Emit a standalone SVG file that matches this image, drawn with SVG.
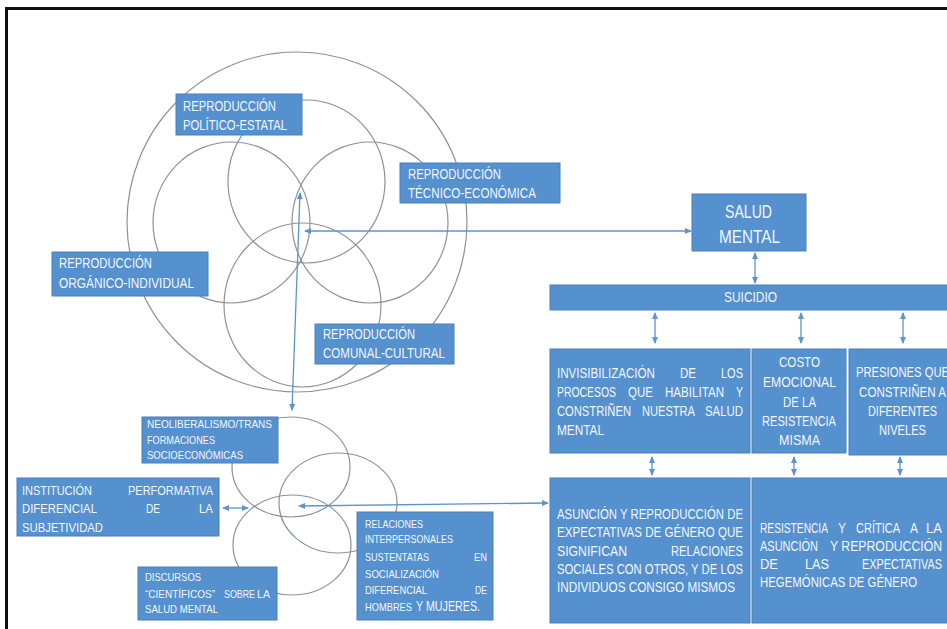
<svg xmlns="http://www.w3.org/2000/svg" width="947" height="629" viewBox="0 0 947 629">
<defs>
<style>
.box{fill:#5590cf;stroke:#4a80ba;stroke-width:1}
.t{font-family:"Liberation Sans Narrow","Liberation Sans",Arial,sans-serif;fill:#f3f7fc}
.s15{font-size:14px}
.s14{font-size:14px}
.s13{font-size:13.5px}
.s11{font-size:11px}
.c{fill:none;stroke:#8c9198;stroke-width:1.2}
.a{fill:none;stroke:#5b95d0;stroke-width:1.3;marker-start:url(#ah);marker-end:url(#ah)}
</style>
<marker id="ah" markerUnits="userSpaceOnUse" markerWidth="7" markerHeight="6" refX="6" refY="3" orient="auto-start-reverse">
<path d="M0,0 L7,3 L0,6 z" fill="#5b95d0"/>
</marker>
</defs>
<rect width="947" height="629" fill="#ffffff"/>
<path d="M6.5,629 V8.5 H947" fill="none" stroke="#111" stroke-width="3"/>

<g id="circles">
<circle class="c" cx="297" cy="222" r="170"/>
<ellipse class="c" cx="306.5" cy="181.5" rx="78.5" ry="81.5"/>
<ellipse class="c" cx="231.5" cy="222.5" rx="78.5" ry="80.5"/>
<ellipse class="c" cx="370" cy="222.5" rx="78" ry="80.5"/>
<ellipse class="c" cx="302.5" cy="305" rx="78.5" ry="82"/>
<ellipse class="c" cx="291" cy="467" rx="59" ry="50"/>
<ellipse class="c" cx="338" cy="503" rx="59" ry="50"/>
<ellipse class="c" cx="292" cy="545" rx="59" ry="50"/>
</g>

<g id="connectors">
<line class="a" x1="300" y1="193" x2="292" y2="410"/>
<line class="a" x1="305" y1="231" x2="691" y2="231"/>
<line class="a" x1="755" y1="253" x2="755" y2="283"/>
<line class="a" x1="655" y1="313" x2="655" y2="343"/>
<line class="a" x1="801" y1="313" x2="801" y2="343"/>
<line class="a" x1="903" y1="313" x2="903" y2="343"/>
<line class="a" x1="652" y1="457" x2="652" y2="475"/>
<line class="a" x1="794" y1="457" x2="794" y2="475"/>
<line class="a" x1="900" y1="457" x2="900" y2="475"/>
<line class="a" x1="299" y1="506" x2="548" y2="503"/>
<line class="a" x1="223" y1="508" x2="248" y2="508"/>
</g>

<g id="politico">
<rect class="box" x="176" y="94" width="126" height="41"/>
<text class="t" font-size="15" x="183" y="111" textLength="93" lengthAdjust="spacingAndGlyphs">REPRODUCCIÓN</text>
<text class="t" font-size="15" x="183" y="130" textLength="104" lengthAdjust="spacingAndGlyphs">POLÍTICO-ESTATAL</text>
</g>
<g id="tecnico">
<rect class="box" x="400" y="163" width="160" height="40"/>
<text class="t" font-size="15" x="408" y="179" textLength="93" lengthAdjust="spacingAndGlyphs">REPRODUCCIÓN</text>
<text class="t" font-size="15" x="408" y="198" textLength="128" lengthAdjust="spacingAndGlyphs">TÉCNICO-ECONÓMICA</text>
</g>
<g id="organico">
<rect class="box" x="52" y="252" width="156" height="44"/>
<text class="t" font-size="15" x="59" y="268" textLength="93" lengthAdjust="spacingAndGlyphs">REPRODUCCIÓN</text>
<text class="t" font-size="15" x="59" y="288" textLength="135" lengthAdjust="spacingAndGlyphs">ORGÁNICO-INDIVIDUAL</text>
</g>
<g id="comunal">
<rect class="box" x="315" y="324" width="139" height="40"/>
<text class="t" font-size="15" x="323" y="339" textLength="92" lengthAdjust="spacingAndGlyphs">REPRODUCCIÓN</text>
<text class="t" font-size="15" x="323" y="358" textLength="122" lengthAdjust="spacingAndGlyphs">COMUNAL-CULTURAL</text>
</g>

<g id="salud">
<rect class="box" x="692" y="194" width="114" height="57"/>
<text class="t" font-size="19" x="725" y="218" textLength="47" lengthAdjust="spacingAndGlyphs">SALUD</text>
<text class="t" font-size="19" x="719" y="243" textLength="61" lengthAdjust="spacingAndGlyphs">MENTAL</text>
</g>
<g id="suicidio">
<rect class="box" x="550" y="285" width="400" height="25"/>
<text class="t" font-size="14" x="724" y="302" textLength="53" lengthAdjust="spacingAndGlyphs">SUICIDIO</text>
</g>

<g id="invisibilizacion">
<rect class="box" x="550" y="349" width="200" height="104"/>
<text class="t s14" x="557" y="377.5" textLength="98" lengthAdjust="spacingAndGlyphs">INVISIBILIZACIÓN</text>
<text class="t s14" x="680" y="377.5" textLength="16" lengthAdjust="spacingAndGlyphs">DE</text>
<text class="t s14" x="721" y="377.5" textLength="22" lengthAdjust="spacingAndGlyphs">LOS</text>
<text class="t s14" x="557" y="397" textLength="59" lengthAdjust="spacingAndGlyphs">PROCESOS</text>
<text class="t s14" x="628" y="397" textLength="25" lengthAdjust="spacingAndGlyphs">QUE</text>
<text class="t s14" x="665" y="397" textLength="59" lengthAdjust="spacingAndGlyphs">HABILITAN</text>
<text class="t s14" x="736" y="397" textLength="7" lengthAdjust="spacingAndGlyphs">Y</text>
<text class="t s14" x="557" y="416" textLength="74" lengthAdjust="spacingAndGlyphs">CONSTRIÑEN</text>
<text class="t s14" x="642" y="416" textLength="53" lengthAdjust="spacingAndGlyphs">NUESTRA</text>
<text class="t s14" x="705" y="416" textLength="38" lengthAdjust="spacingAndGlyphs">SALUD</text>
<text class="t s14" x="557" y="435" textLength="47" lengthAdjust="spacingAndGlyphs">MENTAL</text>
</g>
<g id="costo">
<rect class="box" x="752" y="349" width="94" height="104"/>
<text class="t s14" x="779" y="367" textLength="41" lengthAdjust="spacingAndGlyphs">COSTO</text>
<text class="t s14" x="763" y="387" textLength="73" lengthAdjust="spacingAndGlyphs">EMOCIONAL</text>
<text class="t s14" x="783" y="407" textLength="33" lengthAdjust="spacingAndGlyphs">DE LA</text>
<text class="t s14" x="762" y="426" textLength="74" lengthAdjust="spacingAndGlyphs">RESISTENCIA</text>
<text class="t s14" x="779" y="445" textLength="41" lengthAdjust="spacingAndGlyphs">MISMA</text>
</g>
<g id="presiones">
<rect class="box" x="849" y="349" width="100" height="106"/>
<text class="t s14" x="856" y="377" textLength="93" lengthAdjust="spacingAndGlyphs">PRESIONES QUE</text>
<text class="t s14" x="859" y="397" textLength="87" lengthAdjust="spacingAndGlyphs">CONSTRIÑEN A</text>
<text class="t s14" x="868" y="416" textLength="69" lengthAdjust="spacingAndGlyphs">DIFERENTES</text>
<text class="t s14" x="879" y="435" textLength="47" lengthAdjust="spacingAndGlyphs">NIVELES</text>
</g>

<g id="asuncion">
<rect class="box" x="550" y="478" width="200" height="145"/>
<text class="t s15" x="557" y="519" textLength="186" lengthAdjust="spacingAndGlyphs">ASUNCIÓN Y REPRODUCCIÓN DE</text>
<text class="t s15" x="557" y="537" textLength="186" lengthAdjust="spacingAndGlyphs">EXPECTATIVAS DE GÉNERO QUE</text>
<text class="t s15" x="557" y="556" textLength="70" lengthAdjust="spacingAndGlyphs">SIGNIFICAN</text>
<text class="t s15" x="671" y="556" textLength="72" lengthAdjust="spacingAndGlyphs">RELACIONES</text>
<text class="t s15" x="557" y="574" textLength="186" lengthAdjust="spacingAndGlyphs">SOCIALES CON OTROS, Y DE LOS</text>
<text class="t s15" x="557" y="592" textLength="178" lengthAdjust="spacingAndGlyphs">INDIVIDUOS CONSIGO MISMOS</text>
</g>
<g id="resistencia">
<rect class="box" x="752" y="478" width="200" height="145"/>
<text class="t s15" x="760" y="533" textLength="68" lengthAdjust="spacingAndGlyphs">RESISTENCIA</text>
<text class="t s15" x="838" y="533" textLength="8" lengthAdjust="spacingAndGlyphs">Y</text>
<text class="t s15" x="856" y="533" textLength="44" lengthAdjust="spacingAndGlyphs">CRÍTICA</text>
<text class="t s15" x="910" y="533" textLength="8" lengthAdjust="spacingAndGlyphs">A</text>
<text class="t s15" x="926" y="533" textLength="16" lengthAdjust="spacingAndGlyphs">LA</text>
<text class="t s15" x="760" y="551" textLength="58" lengthAdjust="spacingAndGlyphs">ASUNCIÓN</text>
<text class="t s15" x="830" y="551" textLength="112" lengthAdjust="spacingAndGlyphs">Y REPRODUCCIÓN</text>
<text class="t s15" x="760" y="569" textLength="18" lengthAdjust="spacingAndGlyphs">DE</text>
<text class="t s15" x="805" y="569" textLength="24" lengthAdjust="spacingAndGlyphs">LAS</text>
<text class="t s15" x="862" y="569" textLength="80" lengthAdjust="spacingAndGlyphs">EXPECTATIVAS</text>
<text class="t s15" x="760" y="587" textLength="157" lengthAdjust="spacingAndGlyphs">HEGEMÓNICAS DE GÉNERO</text>
</g>

<g id="neoliberalismo">
<rect class="box" x="142" y="417" width="136" height="46"/>
<text class="t s11" x="147" y="428" textLength="125" lengthAdjust="spacingAndGlyphs">NEOLIBERALISMO/TRANS</text>
<text class="t s11" x="147" y="444" textLength="68" lengthAdjust="spacingAndGlyphs">FORMACIONES</text>
<text class="t s11" x="147" y="459" textLength="96" lengthAdjust="spacingAndGlyphs">SOCIOECONÓMICAS</text>
</g>
<g id="institucion">
<rect class="box" x="17" y="478" width="202" height="58"/>
<text class="t s13" x="22" y="495" textLength="70" lengthAdjust="spacingAndGlyphs">INSTITUCIÓN</text>
<text class="t s13" x="128" y="495" textLength="85" lengthAdjust="spacingAndGlyphs">PERFORMATIVA</text>
<text class="t s13" x="22" y="513" textLength="75" lengthAdjust="spacingAndGlyphs">DIFERENCIAL</text>
<text class="t s13" x="146" y="513" textLength="14" lengthAdjust="spacingAndGlyphs">DE</text>
<text class="t s13" x="199" y="513" textLength="14" lengthAdjust="spacingAndGlyphs">LA</text>
<text class="t s13" x="22" y="532" textLength="81" lengthAdjust="spacingAndGlyphs">SUBJETIVIDAD</text>
</g>
<g id="discursos">
<rect class="box" x="138" y="567" width="139" height="53"/>
<text class="t s11" x="145" y="581" textLength="56" lengthAdjust="spacingAndGlyphs">DISCURSOS</text>
<text class="t s11" x="145" y="598" textLength="70" lengthAdjust="spacingAndGlyphs">“CIENTÍFICOS”</text>
<text class="t s11" x="224" y="598" textLength="31" lengthAdjust="spacingAndGlyphs">SOBRE</text>
<text class="t s11" x="257" y="598" textLength="13" lengthAdjust="spacingAndGlyphs">LA</text>
<text class="t s11" x="145" y="613" textLength="73" lengthAdjust="spacingAndGlyphs">SALUD MENTAL</text>
</g>
<g id="relaciones">
<rect class="box" x="357" y="512" width="136" height="108"/>
<text class="t s11" x="365" y="528" textLength="58" lengthAdjust="spacingAndGlyphs">RELACIONES</text>
<text class="t s11" x="365" y="543" textLength="88" lengthAdjust="spacingAndGlyphs">INTERPERSONALES</text>
<text class="t s11" x="365" y="561" textLength="64" lengthAdjust="spacingAndGlyphs">SUSTENTATAS</text>
<text class="t s11" x="474" y="561" textLength="13" lengthAdjust="spacingAndGlyphs">EN</text>
<text class="t s11" x="365" y="578" textLength="74" lengthAdjust="spacingAndGlyphs">SOCIALIZACIÓN</text>
<text class="t s11" x="365" y="594" textLength="62" lengthAdjust="spacingAndGlyphs">DIFERENCIAL</text>
<text class="t s11" x="475" y="594" textLength="12" lengthAdjust="spacingAndGlyphs">DE</text>
<text class="t s11" x="365" y="611" textLength="47" lengthAdjust="spacingAndGlyphs">HOMBRES</text>
<text class="t" font-size="15" x="416" y="611" textLength="64" lengthAdjust="spacingAndGlyphs">Y MUJERES.</text>
</g>
</svg>
